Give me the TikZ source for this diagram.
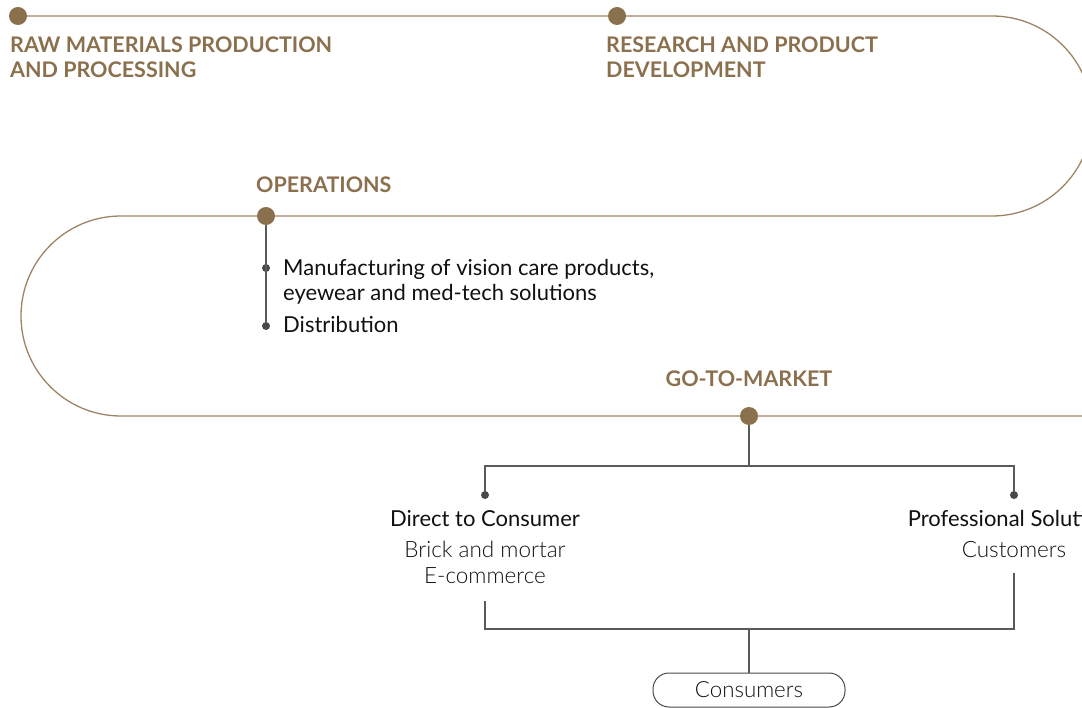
\documentclass[tikz,border=0pt]{standalone}
\usepackage{fontspec}
\setmainfont{Lato}
\newfontfamily\lightfont{Lato Light}
\usepackage{xcolor}
\usetikzlibrary{positioning}
\definecolor{bronze}{RGB}{139,112,78}
\definecolor{trackbrown}{RGB}{158,132,101}
\definecolor{inkgray}{RGB}{72,72,72}
\definecolor{stemgray}{RGB}{90,90,90}
\definecolor{ink}{RGB}{17,17,17}

\begin{document}
\begin{tikzpicture}[x=1pt,y=-1pt]
\tikzset{
    stage/.style={circle, fill=bronze, inner sep=0pt, minimum size=18pt},
    itemdot/.style={circle, fill=inkgray, inner sep=0pt, minimum size=8pt},
    track/.style={trackbrown, line width=1.3pt},
    stem/.style={stemgray, line width=1.1pt},
    heading/.style={text=bronze, font=\fontsize{21.5}{25}\selectfont\bfseries, align=left, inner sep=0pt},
    body/.style={text=ink, font=\fontsize{22}{25}\selectfont, align=left, inner sep=0pt},
    subtext/.style={text=ink, font=\lightfont\fontsize{22.5}{26}\selectfont, align=center, inner sep=0pt},
    pill/.style={draw=inkgray, line width=1pt, rounded corners=16pt, minimum width=192pt, minimum height=34pt, text=ink, font=\lightfont\fontsize{22.3}{24}\selectfont}
}
\useasboundingbox (0,0) rectangle (1082,708);
\clip (0,0) rectangle (1082,708);

% Value chain track
\coordinate (rawpt) at (18,16);
\coordinate (rndpt) at (617,16);
\coordinate (opspt) at (266,216);
\coordinate (gtmpt) at (749,416);
\draw[track] (rawpt) -- (992,16) arc[start angle=90, end angle=-90, radius=100pt]
    -- (121,216) arc[start angle=90, end angle=270, radius=100pt] -- (1082,416);

% Stages (multi-line labels sit on their last baseline)
\node[stage] (raw) at (rawpt){};
\node[stage] (rnd) at (rndpt){};
\node[stage] (ops) at (opspt){};
\node[stage] (gtm) at (gtmpt){};
\node[heading, anchor=base west] (rawtxt) at (10,78) {RAW MATERIALS PRODUCTION\\AND PROCESSING};
\node[heading, anchor=base west] (rndtxt) at (606,78) {RESEARCH AND PRODUCT\\DEVELOPMENT};
\node[heading, anchor=base west] (opstxt) at (256,193) {OPERATIONS};
\node[heading, anchor=base] (gtmtxt) at (749,387) {GO-TO-MARKET};

% Operations
\node[itemdot] (mfgdot) at (266,268){};
\node[itemdot] (disdot) at (266,326){};
 \draw[stem] (ops)--(disdot);
\node[body, anchor=base west] (mfg) at (283,301) {Manufacturing of vision care products,\\eyewear and med-tech solutions};
\node[body, anchor=base west] (dis) at (283,333) {Distribution};

% Go-to-market
\node[itemdot] (dtcdot) at (485,495){};
\node[itemdot] (prodot) at (1014,495){};
\coordinate (split) at (749,466);
 \draw[stem] (gtm)--(split);
 \draw[stem] (dtcdot)|-(split)-|(prodot);
\node[body, anchor=base] (dtc) at (485,526) {Direct to Consumer};
\node[subtext, anchor=base] (dtcsub) at (485,583) {Brick and mortar\\E-commerce};
\node[body, anchor=base] (pro) at (1014,526) {Professional Solutions};
\node[subtext, anchor=base] (prosub) at (1014,557) {Customers};

% Consumers
\coordinate (dtcend) at (485,601);
\coordinate (proend) at (1014,573);
\coordinate (join) at (749,629);
\node[pill] (cons) at (749,690) {Consumers};
 \draw[stem] (dtcend)|-(join)-|(proend);
 \draw[stem] (join)--(cons);

\end{tikzpicture}
\end{document}
